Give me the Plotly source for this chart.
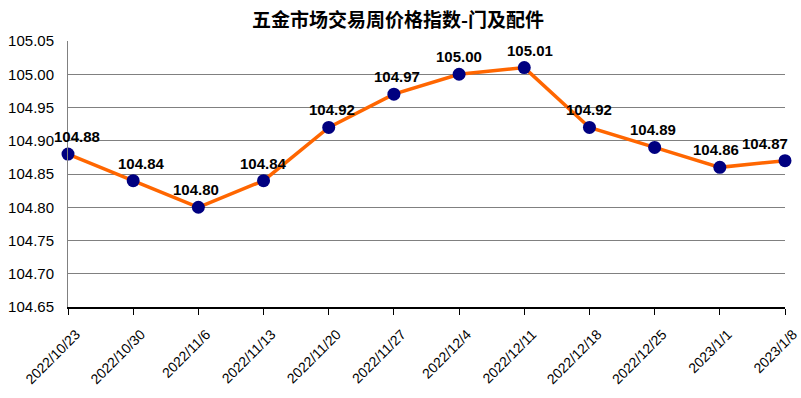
import plotly.graph_objects as go

dates = ["2022/10/23", "2022/10/30", "2022/11/6", "2022/11/13", "2022/11/20", "2022/11/27",
         "2022/12/4", "2022/12/11", "2022/12/18", "2022/12/25", "2023/1/1", "2023/1/8"]
values = [104.88, 104.84, 104.80, 104.84, 104.92, 104.97, 105.00, 105.01, 104.92, 104.89, 104.86, 104.87]
y_ticks = [104.65, 104.70, 104.75, 104.80, 104.85, 104.90, 104.95, 105.00, 105.05]

# horizontal nudges of the value labels (style only)
label_dx = [9, 8, -2, 0, 3, 3, 0, 6, 0, -2, -4, -20]

xs = list(range(len(dates)))

fig = go.Figure()
fig.add_trace(go.Scatter(
    x=xs, y=values, mode="lines+markers",
    line=dict(color="#FF6600", width=3.5),
    marker=dict(color="#000080", size=13),
    cliponaxis=False,
))

for xi, v, dx in zip(xs, values, label_dx):
    fig.add_annotation(
        x=xi, y=v, text=f"{v:.2f}", showarrow=False,
        xanchor="center", yanchor="bottom", xshift=dx, yshift=7,
        font=dict(family="Liberation Sans, Arial", size=15, color="black", weight="bold"),
    )

fig.update_layout(
    width=801, height=398,
    margin=dict(l=68, r=16, t=41, b=91, autoexpand=False),
    paper_bgcolor="white", plot_bgcolor="white",
    showlegend=False,
    title=dict(text="五金市场交易周价格指数-门及配件", x=0.497, xanchor="center", y=0.948, yanchor="middle",
               font=dict(family="Noto Sans CJK SC", size=19, color="black", weight="bold")),
    font=dict(family="Liberation Sans, Arial", color="black"),
)
fig.update_xaxes(
    range=[0, 11], tickmode="array", tickvals=xs, ticktext=dates,
    tickangle=-45, tickfont=dict(size=14, family="Liberation Sans, Arial"),
    showgrid=False, showline=True, linecolor="black", linewidth=1.5,
    ticks="outside", ticklen=6, tickcolor="black", zeroline=False,
    ticklabelstandoff=6, ticklabelshift=8, automargin=False,
)
fig.update_yaxes(
    range=[104.65, 105.05], tickmode="array", tickvals=y_ticks,
    ticktext=[f"{v:.2f}" for v in y_ticks],
    tickfont=dict(size=15, family="Liberation Sans, Arial"),
    showgrid=True, gridcolor="#808080", gridwidth=1,
    showline=True, linecolor="#808080", zeroline=False,
    ticks="outside", ticklen=10, tickcolor="white",
    automargin=False,
)

fig.write_html("out.html", config={"displayModeBar": False},
               post_script="document.body.style.margin='0';")
